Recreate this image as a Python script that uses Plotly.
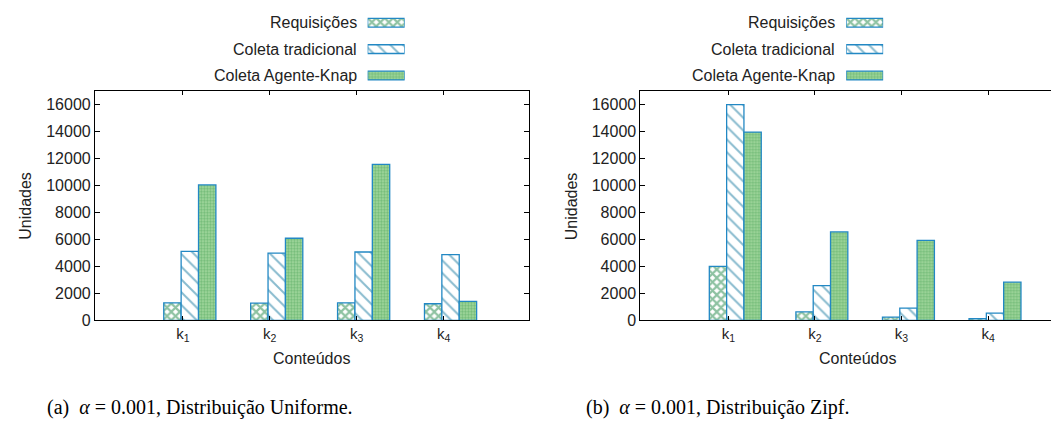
import plotly.graph_objects as go

categories = ["k<sub>1</sub>", "k<sub>2</sub>", "k<sub>3</sub>", "k<sub>4</sub>"]
positions = [1, 2, 3, 4]
series_names = ["Requisições", "Coleta tradicional", "Coleta Agente-Knap"]

uniform_req = [1300, 1280, 1300, 1230]
uniform_trad = [5120, 4980, 5070, 4880]
uniform_agent = [10050, 6090, 11570, 1400]

zipf_req = [4000, 630, 240, 120]
zipf_trad = [16000, 2570, 900, 530]
zipf_agent = [13970, 6560, 5930, 2830]

W, H = 1059, 430
OUTLINE = "#2288c4"
patterns = [
    dict(shape="x", fgcolor="#1c8544", bgcolor="white", size=6, solidity=0.6),
    dict(shape="\\", fgcolor="#14789e", bgcolor="white", size=9, solidity=0.22),
    dict(shape=".", fgcolor="#3f9d50", bgcolor="#a6d9a0", size=3, solidity=0.5),
]

fig = go.Figure()

panels = [
    dict(data=[uniform_req, uniform_trad, uniform_agent], xa="x", ya="y"),
    dict(data=[zipf_req, zipf_trad, zipf_agent], xa="x2", ya="y2"),
]
for p in panels:
    for name, vals, pat in zip(series_names, p["data"], patterns):
        fig.add_trace(go.Bar(
            x=positions, y=vals, name=name, xaxis=p["xa"], yaxis=p["ya"],
            marker=dict(color="white", pattern=pat, line=dict(color=OUTLINE, width=1.3)),
            showlegend=False, hoverinfo="skip",
        ))

# legend swatches (drawn as bars on small helper axes)
for i, (xa, ya) in enumerate([("x3", "y3"), ("x4", "y4")]):
    for name, pat in zip(series_names, patterns):
        fig.add_trace(go.Bar(
            x=[1], y=[name], orientation="h", xaxis=xa, yaxis=ya,
            width=0.33, offset=-0.165,
            marker=dict(color="white", pattern=pat, line=dict(color=OUTLINE, width=1.3)),
            showlegend=False, hoverinfo="skip",
        ))

def px(v):
    return v / W

def py(v):
    return (H - v) / H

tickvals = [c - 0.08 for c in positions]
common_x = dict(
    tickmode="array", tickvals=tickvals, ticktext=categories,
    ticks="inside", ticklen=4, tickcolor="black",
    showline=True, linecolor="black", linewidth=1, mirror="ticks",
    showgrid=False, zeroline=False,
    tickfont=dict(family="Liberation Sans", size=15, color="#222"),
)
common_y = dict(
    range=[0, 17000], dtick=2000, tick0=0, tickformat="d",
    ticks="inside", ticklen=5, tickcolor="black",
    showline=True, linecolor="black", linewidth=1, mirror="ticks",
    showgrid=False, zeroline=False,
    tickfont=dict(family="Liberation Sans", size=16, color="#222"),
)
ydom = [py(319), py(85)]

legend_rows_dom = [py(82.5), py(1.5)]
helper = dict(visible=False, fixedrange=True)

fig.update_layout(
    width=W, height=H, autosize=False,
    margin=dict(l=0, r=0, t=0, b=0),
    paper_bgcolor="white", plot_bgcolor="white",
    barmode="group", bargap=0.4, bargroupgap=0,
    xaxis=dict(domain=[px(87), px(521)], range=[-0.092, 4.897], anchor="y", **common_x),
    yaxis=dict(domain=ydom, anchor="x", **common_y),
    xaxis2=dict(domain=[px(633), 1.0], range=[-0.096, 4.82], anchor="y2", **common_x),
    yaxis2=dict(domain=ydom, anchor="x2", **common_y),
    xaxis3=dict(domain=[px(360), px(397)], range=[0, 1], anchor="y3", **helper),
    yaxis3=dict(domain=legend_rows_dom, anchor="x3", type="category",
                categoryorder="array", categoryarray=series_names,
                range=[2.5, -0.5], **helper),
    xaxis4=dict(domain=[px(839), px(876)], range=[0, 1], anchor="y4", **helper),
    yaxis4=dict(domain=legend_rows_dom, anchor="x4", type="category",
                categoryorder="array", categoryarray=series_names,
                range=[2.5, -0.5], **helper),
    showlegend=False,
)

sans = dict(family="Liberation Sans", size=16, color="#222")
ann = []
rows_y = [15, 42, 69]
for text_right in [351, 830]:
    for name, yy in zip(series_names, rows_y):
        ann.append(dict(x=px(text_right), y=py(yy), xref="paper", yref="paper",
                        text=name, showarrow=False, xanchor="right", yanchor="middle",
                        font=dict(family="Liberation Sans", size=16, color="#222")))
for xl in [18, 564]:
    ann.append(dict(x=px(xl), y=py(202), xref="paper", yref="paper", text="Unidades",
                    textangle=-90, showarrow=False, xanchor="center", yanchor="middle", font=sans))
for xc in [304, 850]:
    ann.append(dict(x=px(xc), y=py(358), xref="paper", yref="paper", text="Conteúdos",
                    showarrow=False, xanchor="center", yanchor="middle", font=sans))
serif = dict(family="Liberation Serif", size=20, color="black")
ann.append(dict(x=px(192), y=py(408), xref="paper", yref="paper",
                text="(a)  <i>α</i> = 0.001, Distribuição Uniforme.",
                showarrow=False, xanchor="center", yanchor="middle", font=serif))
ann.append(dict(x=px(710), y=py(408), xref="paper", yref="paper",
                text="(b)  <i>α</i> = 0.001, Distribuição Zipf.",
                showarrow=False, xanchor="center", yanchor="middle", font=serif))
fig.update_layout(annotations=ann)

fig.write_html("out.html")
